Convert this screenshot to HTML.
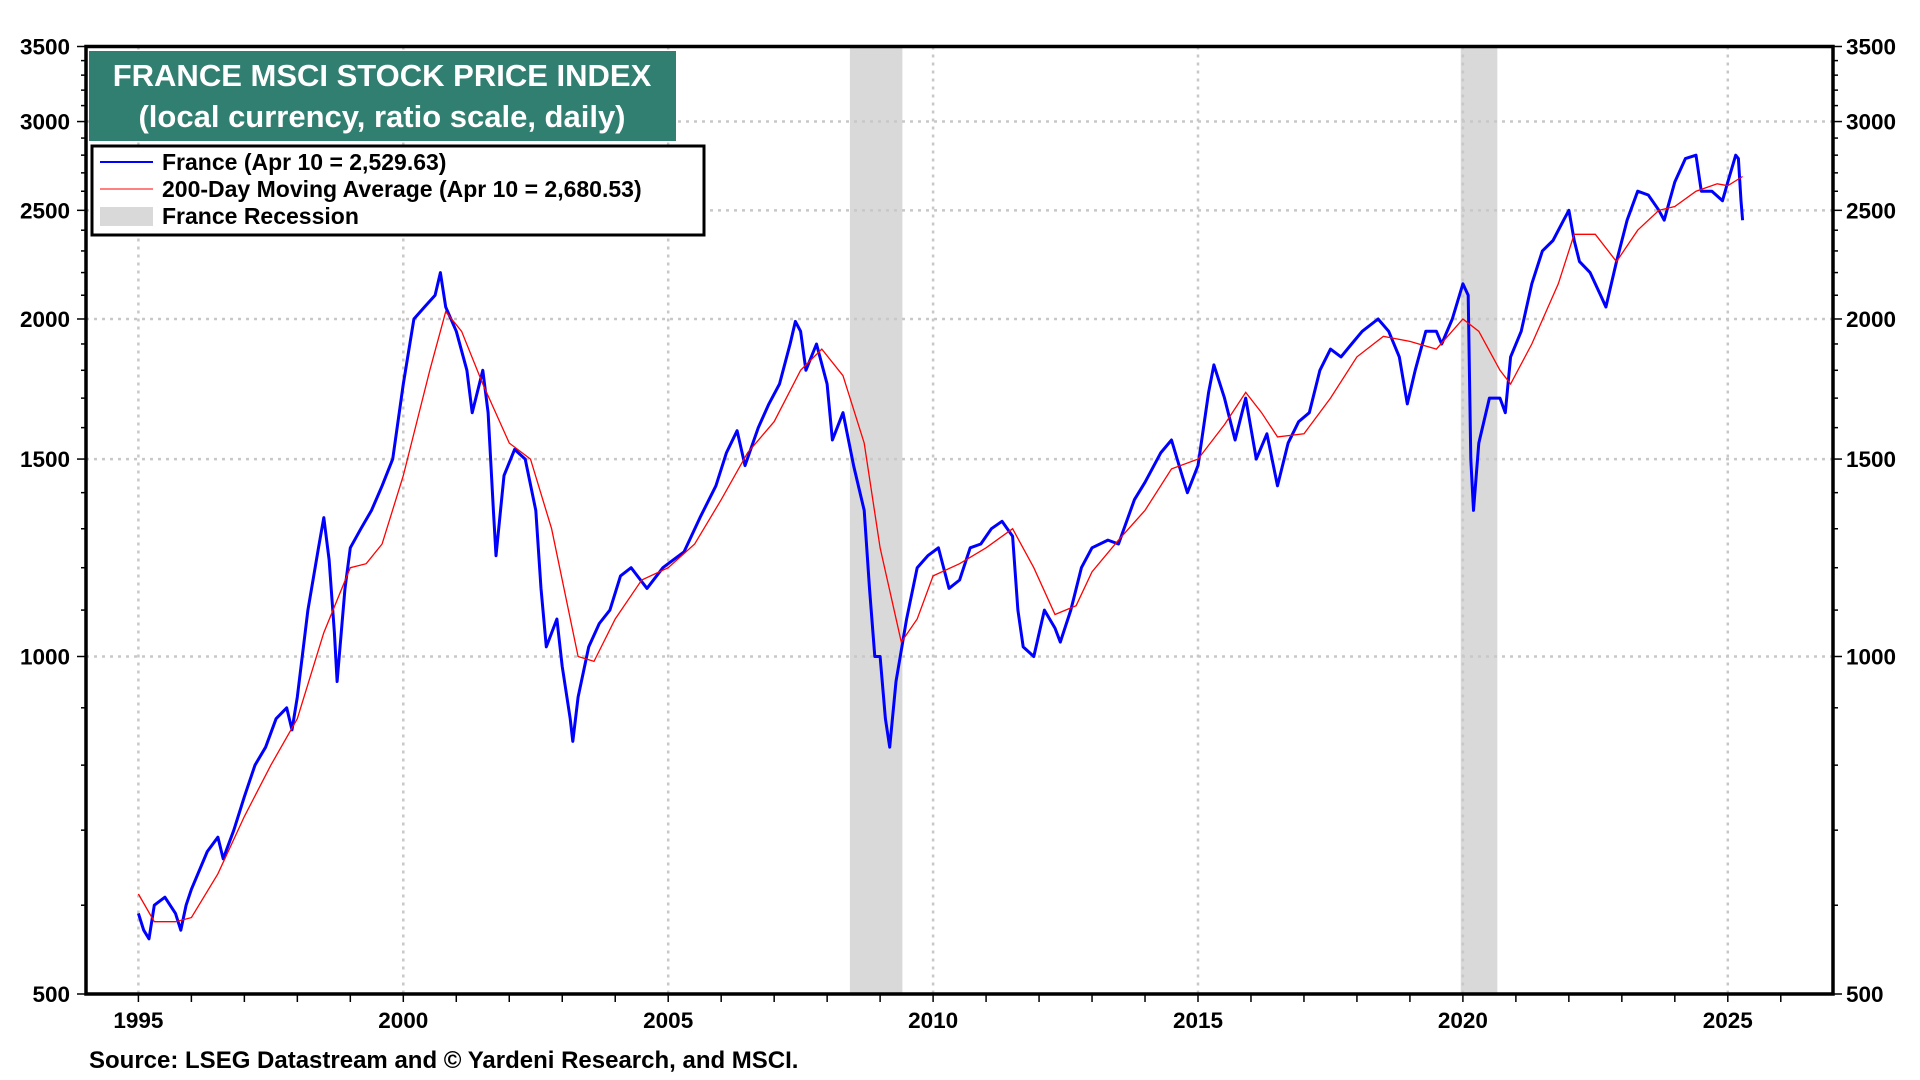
<!DOCTYPE html>
<html><head><meta charset="utf-8"><style>
html,body{margin:0;padding:0;background:#fff;}
svg{display:block;font-family:"Liberation Sans",Arial,sans-serif;font-weight:bold;}
</style></head><body>
<svg id="chart" width="1920" height="1080" viewBox="0 0 1920 1080" xmlns="http://www.w3.org/2000/svg">
<g id="bands"></g><g id="grid"></g><g id="series"></g><g id="axes"></g>
<rect x="89" y="51" width="587" height="90" fill="#317f71"/>
<text x="382" y="86" fill="#fff" font-size="31" text-anchor="middle">FRANCE MSCI STOCK PRICE INDEX</text>
<text x="382" y="127" fill="#fff" font-size="31" text-anchor="middle">(local currency, ratio scale, daily)</text>
<g>
<rect x="92" y="146" width="612" height="89" fill="#fff" stroke="#000" stroke-width="3"/>
<line x1="100" y1="162" x2="153" y2="162" stroke="#0000ff" stroke-width="2"/>
<text x="162" y="170" font-size="23">France (Apr 10 = 2,529.63)</text>
<line x1="100" y1="189" x2="153" y2="189" stroke="#ff0000" stroke-width="1"/>
<text x="162" y="197" font-size="23">200-Day Moving Average (Apr 10 = 2,680.53)</text>
<rect x="100" y="207" width="53" height="19" fill="#d9d9d9"/>
<text x="162" y="224" font-size="23">France Recession</text>
</g>
<text x="89" y="1068" font-size="24">Source: LSEG Datastream and © Yardeni Research, and MSCI.</text>
</svg>
<script>
const recessions=[[2008.43,2009.42],[2019.96,2020.65]];
const yTicks=[500,1000,1500,2000,2500,3000,3500];
const xTicks=[1995,2000,2005,2010,2015,2020,2025];
const franceYears=[1995.0,1995.1,1995.2,1995.3,1995.5,1995.7,1995.8,1995.9,1996.0,1996.3,1996.5,1996.6,1996.8,1997.0,1997.2,1997.4,1997.6,1997.8,1997.9,1998.0,1998.2,1998.4,1998.5,1998.6,1998.7,1998.75,1998.9,1999.0,1999.2,1999.4,1999.6,1999.8,2000.0,2000.2,2000.4,2000.6,2000.7,2000.8,2001.0,2001.2,2001.3,2001.5,2001.6,2001.7,2001.75,2001.9,2002.1,2002.3,2002.5,2002.6,2002.7,2002.9,2003.0,2003.15,2003.2,2003.3,2003.5,2003.7,2003.9,2004.1,2004.3,2004.6,2004.9,2005.0,2005.3,2005.6,2005.9,2006.1,2006.3,2006.45,2006.7,2006.9,2007.1,2007.3,2007.4,2007.5,2007.6,2007.8,2008.0,2008.1,2008.3,2008.5,2008.7,2008.8,2008.9,2009.0,2009.1,2009.18,2009.3,2009.5,2009.7,2009.9,2010.1,2010.3,2010.5,2010.7,2010.9,2011.1,2011.3,2011.5,2011.6,2011.7,2011.9,2012.1,2012.3,2012.4,2012.6,2012.8,2013.0,2013.3,2013.5,2013.8,2014.0,2014.3,2014.5,2014.7,2014.8,2015.0,2015.2,2015.3,2015.5,2015.7,2015.9,2016.1,2016.3,2016.5,2016.7,2016.9,2017.1,2017.3,2017.5,2017.7,2017.9,2018.1,2018.4,2018.6,2018.8,2018.95,2019.1,2019.3,2019.5,2019.6,2019.8,2020.0,2020.1,2020.15,2020.2,2020.3,2020.5,2020.7,2020.8,2020.9,2021.1,2021.3,2021.5,2021.7,2021.9,2022.0,2022.1,2022.2,2022.4,2022.6,2022.7,2022.9,2023.1,2023.3,2023.5,2023.7,2023.8,2024.0,2024.2,2024.4,2024.5,2024.7,2024.9,2025.0,2025.15,2025.2,2025.25,2025.28];
const franceValues=[590,570,560,600,610,590,570,600,620,670,690,660,700,750,800,830,880,900,860,920,1100,1250,1330,1220,1050,950,1150,1250,1300,1350,1420,1500,1750,2000,2050,2100,2200,2050,1950,1800,1650,1800,1650,1350,1230,1450,1530,1500,1350,1150,1020,1080,980,880,840,920,1020,1070,1100,1180,1200,1150,1200,1210,1240,1330,1420,1520,1590,1480,1600,1680,1750,1900,1990,1950,1800,1900,1750,1560,1650,1480,1350,1150,1000,1000,880,830,950,1080,1200,1230,1250,1150,1170,1250,1260,1300,1320,1280,1100,1020,1000,1100,1060,1030,1100,1200,1250,1270,1260,1380,1430,1520,1560,1450,1400,1480,1720,1820,1700,1560,1700,1500,1580,1420,1550,1620,1650,1800,1880,1850,1900,1950,2000,1950,1850,1680,1800,1950,1950,1900,2000,2150,2100,1500,1350,1550,1700,1700,1650,1850,1950,2150,2300,2350,2450,2500,2350,2250,2200,2100,2050,2250,2450,2600,2580,2500,2450,2650,2780,2800,2600,2600,2550,2650,2800,2780,2550,2450];
const maYears=[1995.0,1995.3,1995.7,1996.0,1996.5,1997.0,1997.5,1998.0,1998.5,1999.0,1999.3,1999.6,2000.0,2000.5,2000.8,2001.1,2001.5,2002.0,2002.4,2002.8,2003.3,2003.6,2004.0,2004.5,2005.0,2005.5,2006.0,2006.5,2007.0,2007.5,2007.9,2008.3,2008.7,2009.0,2009.4,2009.7,2010.0,2010.5,2011.0,2011.5,2011.9,2012.3,2012.7,2013.0,2013.5,2014.0,2014.5,2015.0,2015.5,2015.9,2016.2,2016.5,2017.0,2017.5,2018.0,2018.5,2019.0,2019.5,2020.0,2020.3,2020.7,2020.9,2021.3,2021.8,2022.1,2022.5,2022.9,2023.3,2023.7,2024.0,2024.4,2024.8,2025.0,2025.28];
const maValues=[614,580,580,585,640,720,800,880,1050,1200,1210,1260,1450,1800,2030,1950,1750,1550,1500,1300,1000,990,1080,1170,1200,1260,1380,1520,1620,1800,1880,1780,1550,1250,1030,1080,1180,1210,1250,1300,1200,1090,1110,1190,1270,1350,1470,1500,1610,1720,1650,1570,1580,1700,1850,1930,1910,1880,2000,1950,1800,1750,1900,2150,2380,2380,2250,2400,2500,2520,2600,2640,2630,2680];

const L=86,R=1833,T=46.5,B=994;
const X=y=>138.4+(y-1995)*52.98;
const Y=v=>B-(B-T)*Math.log(v/500)/Math.log(7);
const NS="http://www.w3.org/2000/svg";
function mk(tag,attrs,parent){const e=document.createElementNS(NS,tag);for(const k in attrs)e.setAttribute(k,attrs[k]);document.getElementById(parent).appendChild(e);return e;}

recessions.forEach(r=>{
  const e=mk('rect',{x:X(r[0]),y:T,width:X(r[1])-X(r[0]),height:B-T,fill:'#d9d9d9'},'bands');
  
  
});
yTicks.slice(1,-1).forEach(v=>{
  const e=mk('line',{x1:L,x2:R,y1:Y(v),y2:Y(v),stroke:'#c8c8c8','stroke-width':2.5,'stroke-dasharray':'3 5'},'grid');
  
  
});
xTicks.forEach(t=>{
  const e=mk('line',{x1:X(t),x2:X(t),y1:T,y2:B,stroke:'#c8c8c8','stroke-width':2.5,'stroke-dasharray':'3 5'},'grid');
  
  
});
function path(xs,vs){return xs.map((x,i)=>(i?'L':'M')+X(x).toFixed(1)+','+Y(vs[i]).toFixed(1)).join('');}
const fl=mk('path',{d:path(franceYears,franceValues),fill:'none',stroke:'#0000ff','stroke-width':3,'stroke-linejoin':'round'},'series');


const ml=mk('path',{d:path(maYears,maValues),fill:'none',stroke:'#ff0000','stroke-width':1.3},'series');



const fr=mk('rect',{x:L,y:T,width:R-L,height:B-T,fill:'none',stroke:'#000','stroke-width':3.5},'axes');


for(let v=500;v<=3500;v+=100){
  const len=yTicks.includes(v)?9:5;
  mk('line',{x1:L-len,x2:L,y1:Y(v),y2:Y(v),stroke:'#000','stroke-width':1.5},'axes');
  mk('line',{x1:R,x2:R+len,y1:Y(v),y2:Y(v),stroke:'#000','stroke-width':1.5},'axes');
}
yTicks.forEach(v=>{
  const a=mk('text',{x:L-16,y:Y(v)+8,'font-size':22.5,'text-anchor':'end'},'axes');a.textContent=v;
  
  
  const b=mk('text',{x:R+13,y:Y(v)+8,'font-size':22.5},'axes');b.textContent=v;
  
  
});
for(let yr=1994;yr<=2028;yr++){
  if(X(yr)<L||X(yr)>R)continue;
  mk('line',{x1:X(yr),x2:X(yr),y1:B,y2:B+8,stroke:'#000','stroke-width':1.5},'axes');
}
xTicks.forEach(t=>{
  const e=mk('text',{x:X(t),y:1028,'font-size':22.5,'text-anchor':'middle'},'axes');e.textContent=t;
  
  
});
</script>
</body></html>
